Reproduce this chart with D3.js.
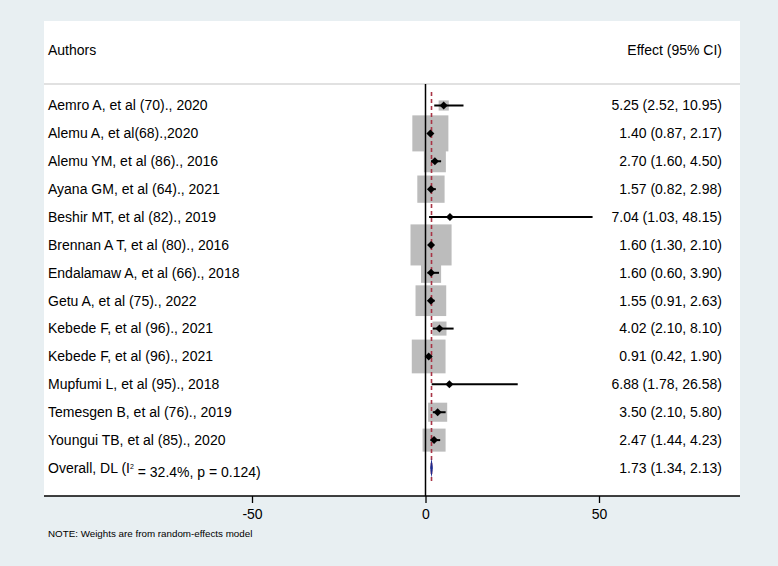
<!DOCTYPE html>
<html>
<head>
<meta charset="utf-8">
<script src="https://cdn.jsdelivr.net/npm/d3@7"></script>
<style>
  body { margin: 0; background: #e8eff2; }
  text { font-family: "Liberation Sans", Arial, Helvetica, sans-serif; fill: #000; }
</style>
</head>
<body>
<div id="chart"></div>
<script>
// Study data
var authors = [
    "Aemro A, et al (70)., 2020",
    "Alemu A, et al(68).,2020",
    "Alemu YM, et al (86)., 2016",
    "Ayana GM, et al (64)., 2021",
    "Beshir MT, et al (82)., 2019",
    "Brennan A T, et al (80)., 2016",
    "Endalamaw A, et al (66)., 2018",
    "Getu A, et al (75)., 2022",
    "Kebede F, et al (96)., 2021",
    "Kebede F, et al (96)., 2021",
    "Mupfumi L, et al (95)., 2018",
    "Temesgen B, et al (76)., 2019",
    "Youngui TB, et al (85)., 2020"
];
var effect = [5.25, 1.40, 2.70, 1.57, 7.04, 1.60, 1.60, 1.55, 4.02, 0.91, 6.88, 3.50, 2.47];
var lower  = [2.52, 0.87, 1.60, 0.82, 1.03, 1.30, 0.60, 0.91, 2.10, 0.42, 1.78, 2.10, 1.44];
var upper  = [10.95, 2.17, 4.50, 2.98, 48.15, 2.10, 3.90, 2.63, 8.10, 1.90, 26.58, 5.80, 4.23];
// box weights (%)
var weight = [1.3, 16.4, 6.1, 9.4, 0.1, 21.3, 5.1, 11.9, 2.5, 14.4, 0.2, 4.6, 6.7];

var overall = {est: 1.73, lo: 1.34, hi: 2.13};
var xTicks = [-50, 0, 50];

var width = 778, height = 566;

var svg = d3.select("#chart").append("svg")
    .attr("width", width)
    .attr("height", height);

// background + white plot region
svg.append("rect")
    .attr("width", width).attr("height", height)
    .attr("fill", "#e8eff2");
svg.append("rect")
    .attr("x", 44).attr("y", 21)
    .attr("width", 696).attr("height", 475)
    .attr("fill", "#ffffff");

// Scales
var xScale = d3.scaleLinear()
    .domain([-50, 50])
    .range([252, 599]);
var yScale = d3.scaleLinear()
    .domain([0, authors.length])
    .range([105.5, 468]);
var boxScale = d3.scaleSqrt()
    .domain([0, 100])
    .range([0, 89]);

// Header
svg.append("text")
    .attr("x", 48).attr("y", 50).attr("dy", "0.35em")
    .style("font-size", "14px")
    .text("Authors");
svg.append("text")
    .attr("x", 722).attr("y", 50).attr("dy", "0.35em")
    .attr("text-anchor", "end")
    .style("font-size", "14px")
    .text("Effect (95% CI)");
svg.append("line")
    .attr("x1", 44).attr("x2", 740)
    .attr("y1", 84).attr("y2", 84)
    .attr("stroke", "#c4c4c4")
    .attr("stroke-width", 1.2);

// Weight boxes
svg.selectAll(".box")
    .data(effect)
    .enter().append("rect")
    .attr("class", "box")
    .attr("x", (d,i) => xScale(d) - boxScale(weight[i]) / 2)
    .attr("y", (d,i) => yScale(i) - boxScale(weight[i]) / 2)
    .attr("width", (d,i) => boxScale(weight[i]))
    .attr("height", (d,i) => boxScale(weight[i]))
    .attr("fill", "#bcbcbc");

// Null line
svg.append("line")
    .attr("x1", xScale(0)).attr("x2", xScale(0))
    .attr("y1", 84).attr("y2", 496)
    .attr("stroke", "#000")
    .attr("stroke-width", 1.5);

// Overall effect line
svg.append("line")
    .attr("x1", xScale(overall.est)).attr("x2", xScale(overall.est))
    .attr("y1", 92).attr("y2", 482)
    .attr("stroke", "#a83445")
    .attr("stroke-width", 1.6)
    .attr("stroke-dasharray", "4,3");

// Confidence intervals
svg.selectAll(".ci")
    .data(effect)
    .enter().append("line")
    .attr("class", "ci")
    .attr("x1", (d,i) => xScale(lower[i]))
    .attr("x2", (d,i) => xScale(upper[i]))
    .attr("y1", (d,i) => yScale(i))
    .attr("y2", (d,i) => yScale(i))
    .attr("stroke", "#000")
    .attr("stroke-width", 2);

// Point estimates
svg.selectAll(".pt")
    .data(effect)
    .enter().append("path")
    .attr("class", "pt")
    .attr("d", (d,i) => {
        var cx = xScale(d), cy = yScale(i), r = 4;
        return "M" + (cx - r) + "," + cy + "L" + cx + "," + (cy - r) +
               "L" + (cx + r) + "," + cy + "L" + cx + "," + (cy + r) + "Z";
    })
    .attr("fill", "#000");

// Overall diamond
var yO = yScale(authors.length);
svg.append("path")
    .attr("d", "M" + xScale(overall.lo) + "," + yO +
               "L" + xScale(overall.est) + "," + (yO - 10) +
               "L" + xScale(overall.hi) + "," + yO +
               "L" + xScale(overall.est) + "," + (yO + 10) + "Z")
    .attr("fill", "#1c2a8e");

// Study labels
svg.selectAll(".lab")
    .data(authors)
    .enter().append("text")
    .attr("class", "lab")
    .attr("x", 48)
    .attr("y", (d,i) => yScale(i))
    .attr("dy", "0.35em")
    .style("font-size", "14px")
    .text(d => d);

svg.selectAll(".est")
    .data(effect)
    .enter().append("text")
    .attr("class", "est")
    .attr("x", 722)
    .attr("y", (d,i) => yScale(i))
    .attr("dy", "0.35em")
    .attr("text-anchor", "end")
    .style("font-size", "14px")
    .text((d,i) => d.toFixed(2) + " (" + lower[i].toFixed(2) + ", " + upper[i].toFixed(2) + ")");

// Overall label with superscript
var ovText = svg.append("text")
    .attr("x", 48).attr("y", yO).attr("dy", "0.35em")
    .style("font-size", "14px");
ovText.append("tspan").text("Overall, DL (I");
ovText.append("tspan").attr("dy", "-0.6em").style("font-size", "7px").text("2");
ovText.append("tspan").attr("dy", "0.6em").text(" = 32.4%, p = 0.124)");

svg.append("text")
    .attr("x", 722).attr("y", yO).attr("dy", "0.35em")
    .attr("text-anchor", "end")
    .style("font-size", "14px")
    .text(overall.est.toFixed(2) + " (" + overall.lo.toFixed(2) + ", " + overall.hi.toFixed(2) + ")");

// x axis
var xAxis = d3.axisBottom(xScale)
    .tickValues(xTicks)
    .tickSize(7)
    .tickPadding(6)
    .tickFormat(d3.format("d"));
var xAxisG = svg.append("g")
    .attr("class", "x_axis")
    .attr("transform", "translate(0,496)")
    .call(xAxis);
xAxisG.select(".domain").remove();
xAxisG.selectAll(".tick line").attr("stroke", "#000").attr("stroke-width", 1.3);
xAxisG.selectAll(".tick text")
    .style("font-size", "14px")
    .style("font-family", "'Liberation Sans', Arial, sans-serif")
    .text(d => d < 0 ? "-" + Math.abs(d) : d);
svg.append("line")
    .attr("x1", 44).attr("x2", 740)
    .attr("y1", 496).attr("y2", 496)
    .attr("stroke", "#000")
    .attr("stroke-width", 1.6);

// Note
svg.append("text")
    .attr("x", 48).attr("y", 534).attr("dy", "0.35em")
    .style("font-size", "9.8px")
    .text("NOTE: Weights are from random-effects model");
</script>
</body>
</html>
